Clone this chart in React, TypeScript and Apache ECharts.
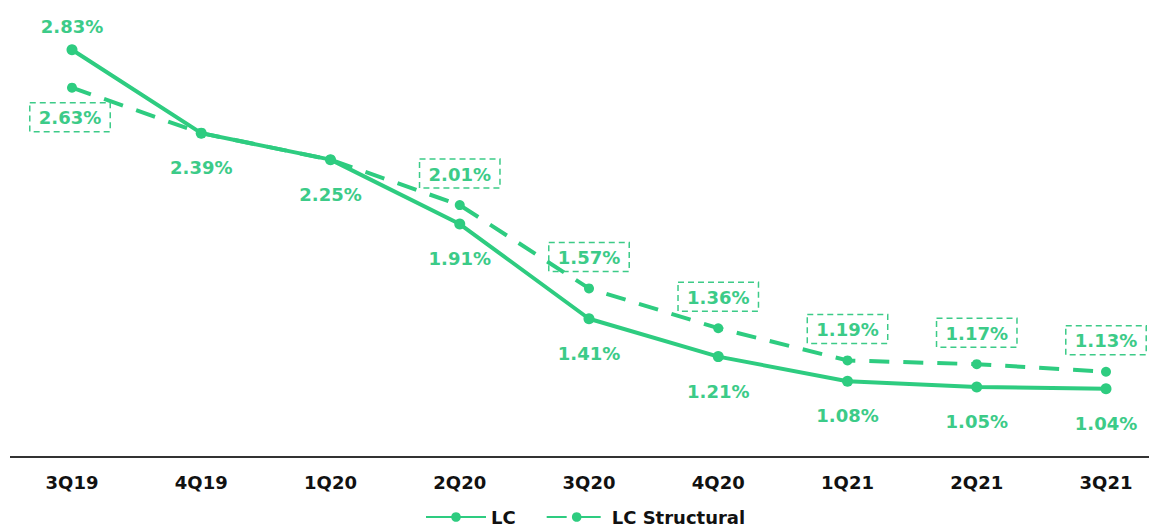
import React, { useEffect, useRef } from "react";
import * as echarts from "echarts";

const categories = ["3Q19", "4Q19", "1Q20", "2Q20", "3Q20", "4Q20", "1Q21", "2Q21", "3Q21"];
const lcValues = [2.83, 2.39, 2.25, 1.91, 1.41, 1.21, 1.08, 1.05, 1.04];
const lcStructuralValues = [2.63, 2.39, 2.25, 2.01, 1.57, 1.36, 1.19, 1.17, 1.13];
// which structural points carry a boxed label
const structuralLabelShown = [true, false, false, true, true, true, true, true, true];

const GREEN = "#2ecc80";
const TEXT_GREEN = "#3ccb88";
const FONT = "DejaVu Sans, Verdana, sans-serif";

export default function App() {
  const ref = useRef<HTMLDivElement>(null);
  useEffect(() => {
    if (!ref.current) return;
    const chart = echarts.init(ref.current, null, { renderer: "svg" });
    chart.setOption({
      animation: false,
      backgroundColor: "#ffffff",
      textStyle: { fontFamily: FONT },
      grid: { left: 72, right: 43, top: 17.6, bottom: 75 },
      graphic: [
        {
          type: "line",
          shape: { x1: 10, y1: 457, x2: 1149, y2: 457 },
          style: { stroke: "#333333", lineWidth: 2 },
          z: 0,
        },
      ],
      xAxis: {
        type: "category",
        data: categories,
        boundaryGap: false,
        axisLine: { show: false },
        axisTick: { show: false },
        axisLabel: {
          color: "#111111",
          fontWeight: "bold",
          fontSize: 18,
          fontFamily: FONT,
          margin: 16,
        },
      },
      yAxis: {
        type: "value",
        min: 0.68,
        max: 3.0,
        show: false,
        splitLine: { show: false },
      },
      legend: {
        bottom: 1,
        left: 420,
        itemWidth: 60,
        itemHeight: 12,
        itemGap: 30,
        textStyle: { color: "#111111", fontWeight: "bold", fontSize: 18, fontFamily: FONT },
        data: ["LC", "LC Structural"],
      },
      series: [
        {
          name: "LC Structural",
          type: "line",
          data: lcStructuralValues.map((v, i) => ({
            value: v,
            label: {
              show: structuralLabelShown[i],
              position: i === 0 ? "bottom" : "top",
              distance: i === 0 ? 10 : 12,
              offset: i === 0 ? [-2, 0] : [0, 0],
            },
          })),
          symbol: "circle",
          symbolSize: 10,
          itemStyle: { color: GREEN },
          lineStyle: { color: GREEN, width: 4, type: [20, 14] },
          label: {
            show: true,
            formatter: (p: any) => p.value.toFixed(2) + "%",
            color: TEXT_GREEN,
            fontWeight: "bold",
            fontSize: 18,
            fontFamily: FONT,
            borderColor: TEXT_GREEN,
            borderWidth: 1.5,
            borderType: [6, 4],
            padding: [6, 9, 5, 9],
          },
          z: 2,
        },
        {
          name: "LC",
          type: "line",
          data: lcValues.map((v, i) => ({
            value: v,
            label: {
              position: i === 0 ? "top" : "bottom",
              distance: i === 0 ? 9 : 20,
            },
          })),
          symbol: "circle",
          symbolSize: 11,
          itemStyle: { color: GREEN },
          lineStyle: { color: GREEN, width: 4 },
          label: {
            show: true,
            formatter: (p: any) => p.value.toFixed(2) + "%",
            color: TEXT_GREEN,
            fontWeight: "bold",
            fontSize: 18,
            fontFamily: FONT,
          },
          z: 3,
        },
      ],
    });
    return () => chart.dispose();
  }, []);
  return (
    <div
      ref={ref}
      style={{ position: "fixed", left: 0, top: 0, width: 1149, height: 532, background: "#fff" }}
    />
  );
}
